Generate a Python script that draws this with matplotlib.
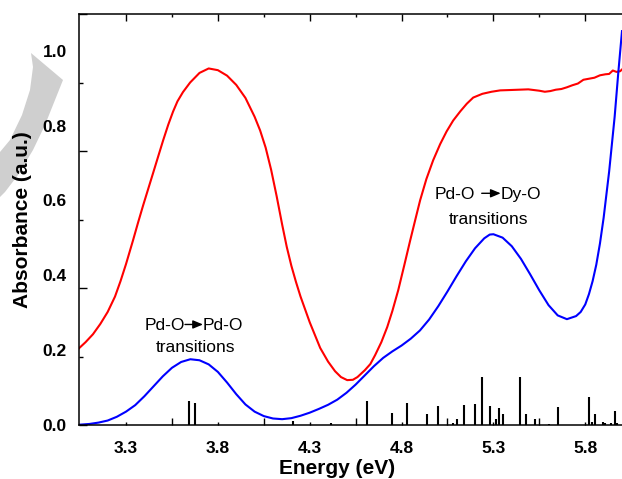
import numpy as np
import matplotlib
matplotlib.use("Agg")
import matplotlib.pyplot as plt
from matplotlib.patches import Polygon
from matplotlib.transforms import offset_copy
from matplotlib.ticker import FixedLocator

plt.rcParams["font.family"] = ["Liberation Sans", "DejaVu Sans"]

# --- data ---
# experimental absorbance (red)
exp_e = [3.044, 3.08, 3.12, 3.16, 3.20, 3.24, 3.27, 3.30, 3.338, 3.365,
         3.393, 3.42, 3.447, 3.475, 3.502, 3.53, 3.556, 3.58, 3.61, 3.649,
         3.70, 3.75, 3.80, 3.85, 3.90, 3.95, 4.00, 4.03, 4.06, 4.09,
         4.12, 4.15, 4.175, 4.20, 4.225, 4.25, 4.30, 4.357, 4.40, 4.438,
         4.47, 4.504, 4.535, 4.56, 4.60, 4.63, 4.656, 4.69, 4.722, 4.75,
         4.782, 4.815, 4.847, 4.875, 4.901, 4.935, 4.972, 5.01, 5.045, 5.081,
         5.12, 5.155, 5.19, 5.24, 5.29, 5.337, 5.39, 5.44, 5.49, 5.52,
         5.55, 5.58, 5.61, 5.64, 5.67, 5.70, 5.73, 5.76, 5.79, 5.82,
         5.85, 5.88, 5.91, 5.93, 5.95, 5.97, 5.99, 6.00]
exp_a = [0.224, 0.242, 0.265, 0.295, 0.330, 0.375, 0.420, 0.470, 0.539, 0.590,
         0.641, 0.688, 0.735, 0.784, 0.831, 0.877, 0.915, 0.945, 0.972, 1.000,
         1.028, 1.041, 1.036, 1.020, 0.993, 0.955, 0.900, 0.860, 0.810, 0.745,
         0.668, 0.585, 0.520, 0.465, 0.418, 0.375, 0.300, 0.225, 0.185, 0.157,
         0.140, 0.131, 0.132, 0.140, 0.160, 0.178, 0.204, 0.242, 0.286, 0.333,
         0.394, 0.467, 0.539, 0.600, 0.656, 0.718, 0.773, 0.820, 0.857, 0.889,
         0.916, 0.938, 0.956, 0.967, 0.973, 0.977, 0.978, 0.979, 0.980, 0.978,
         0.976, 0.973, 0.975, 0.979, 0.981, 0.986, 0.992, 0.997, 1.008, 1.011,
         1.014, 1.021, 1.024, 1.025, 1.035, 1.031, 1.033, 1.038]

# calculated spectrum (blue)
calc_e = [3.049, 3.10, 3.15, 3.20, 3.25, 3.30, 3.35, 3.40, 3.45, 3.50,
          3.55, 3.60, 3.65, 3.70, 3.75, 3.80, 3.85, 3.90, 3.95, 4.00,
          4.05, 4.10, 4.15, 4.20, 4.25, 4.30, 4.35, 4.40, 4.45, 4.50,
          4.55, 4.60, 4.65, 4.70, 4.75, 4.80, 4.85, 4.90, 4.95, 5.00,
          5.05, 5.10, 5.15, 5.20, 5.25, 5.28, 5.30, 5.35, 5.40, 5.45,
          5.50, 5.55, 5.60, 5.65, 5.70, 5.75, 5.775, 5.80, 5.82, 5.84,
          5.86, 5.88, 5.90, 5.93, 5.96, 5.98, 6.00]
calc_a = [0.001, 0.003, 0.007, 0.013, 0.024, 0.039, 0.058, 0.084, 0.113, 0.142,
          0.167, 0.184, 0.192, 0.189, 0.177, 0.155, 0.124, 0.090, 0.060, 0.039,
          0.026, 0.019, 0.017, 0.020, 0.027, 0.036, 0.047, 0.059, 0.074, 0.094,
          0.118, 0.145, 0.172, 0.196, 0.215, 0.232, 0.252, 0.276, 0.308, 0.347,
          0.390, 0.435, 0.478, 0.516, 0.545, 0.556, 0.557, 0.547, 0.522, 0.485,
          0.440, 0.393, 0.350, 0.320, 0.309, 0.318, 0.330, 0.352, 0.382, 0.420,
          0.468, 0.530, 0.605, 0.740, 0.900, 1.030, 1.150]

# transition sticks
stick_e = [3.643, 3.676, 4.211, 4.415, 4.610, 4.750, 4.829, 4.939, 4.997, 5.078,
           5.101, 5.141, 5.201, 5.238, 5.279, 5.315, 5.333, 5.350, 5.446, 5.479,
           5.529, 5.603, 5.651, 5.823, 5.835, 5.855, 5.898, 5.905, 5.942, 5.961,
           5.973]
stick_h = [0.071, 0.065, 0.012, 0.005, 0.071, 0.034, 0.063, 0.033, 0.055, 0.007,
           0.017, 0.058, 0.061, 0.139, 0.056, 0.018, 0.049, 0.032, 0.140, 0.032,
           0.017, 0.004, 0.052, 0.081, 0.010, 0.032, 0.010, 0.007, 0.005, 0.040,
           0.007]

x_ticks = [3.3, 3.8, 4.3, 4.8, 5.3, 5.8]
x_minor = [3.55, 4.05, 4.55, 5.05, 5.55]
y_labels = [0.0, 0.2, 0.4, 0.6, 0.8, 1.0]

# --- figure ---
fig = plt.figure(figsize=(6.22, 4.79), dpi=100)
ax = fig.add_axes([79 / 622, 54 / 479, 543 / 622, 411 / 479])

ax.plot(exp_e, exp_a, color="red", linewidth=1.5)
ax.plot(calc_e, calc_a, color="blue", linewidth=1.5)
ax.vlines(stick_e, 0, stick_h, color="black", linewidth=1.5)

ax.set_xlim(3.044, 6.0)
ax.set_ylim(0, 1.2)

for s in ["left", "bottom", "top"]:
    ax.spines[s].set_linewidth(1.1)
ax.spines["right"].set_visible(False)

# bottom ticks
ax.xaxis.set_major_locator(FixedLocator(x_ticks))
ax.xaxis.set_minor_locator(FixedLocator(x_minor))
ax.tick_params(axis="x", which="major", direction="in", length=2.4, width=1,
               pad=11.5, labelsize=12.5, top=False)
ax.tick_params(axis="x", which="minor", direction="in", length=5.3, width=1, top=False)
for lab in ax.get_xticklabels():
    lab.set_fontweight("bold")

# top ticks
top = ax.secondary_xaxis("top")
top.xaxis.set_major_locator(FixedLocator(x_ticks))
top.xaxis.set_minor_locator(FixedLocator(x_minor))
top.tick_params(which="major", direction="in", length=5.0, width=1, labeltop=False)
top.tick_params(which="minor", direction="in", length=2.2, width=1)
top.spines["top"].set_visible(False)

# left ticks (marks)
ax.yaxis.set_major_locator(FixedLocator([0.0, 0.4, 0.8, 1.2]))
ax.yaxis.set_minor_locator(FixedLocator([0.2, 0.6, 1.0]))
ax.tick_params(axis="y", which="major", direction="in", length=5.5, width=1,
               labelleft=False)
ax.tick_params(axis="y", which="minor", direction="in", length=2.9, width=1)

# left tick labels
lab_ax = ax.secondary_yaxis("left", functions=(lambda y: y / 1.093, lambda y: y * 1.093))
lab_ax.yaxis.set_major_locator(FixedLocator(y_labels))
lab_ax.yaxis.set_minor_locator(FixedLocator([]))
lab_ax.set_yticklabels([f"{v:.1f}" for v in y_labels], fontweight="bold")
lab_ax.tick_params(length=0, pad=8.9, labelsize=12.5)
lab_ax.spines["left"].set_visible(False)

# axis titles
fig.text(337.5 / 622, 1 - 468 / 479, "Energy (eV)", ha="center", va="center",
         fontsize=15, fontweight="bold")
fig.text(23 / 622, 1 - 220 / 479, "Absorbance (a.u.)", ha="center", va="center",
         rotation=90, fontsize=15, fontweight="bold")


# transition labels
def transition_label(xc, yb, left, right, a0, a1, gap, y2, xc2):
    t_left = offset_copy(ax.transData, fig=fig, x=a0 - gap, y=0, units="dots")
    t_right = offset_copy(ax.transData, fig=fig, x=a1, y=0, units="dots")
    ax.text(xc, yb, left, transform=t_left, ha="right", va="baseline", fontsize=12.5)
    ax.text(xc, yb, right, transform=t_right, ha="left", va="baseline", fontsize=12.5)
    ta = offset_copy(ax.transData, fig=fig, x=a0, y=6, units="dots")
    tb = offset_copy(ax.transData, fig=fig, x=a1, y=6, units="dots")
    ax.annotate("", xy=(xc, yb), xycoords=tb, xytext=(xc, yb), textcoords=ta,
                arrowprops=dict(arrowstyle="-|>,head_length=0.6,head_width=0.25",
                                mutation_scale=10, color="black", lw=1,
                                shrinkA=0, shrinkB=0))
    ax.text(xc2, y2, "transitions", ha="center", va="baseline", fontsize=12.5)


transition_label(3.670, 0.276, "Pd-O", "Pd-O", -9, 9, 0, 0.214, 3.676)
transition_label(5.288, 0.659, "Pd-O", "Dy-O", -9.5, 9.5, 6.5, 0.586, 5.272)

# grey curved arrow fragment at top-left
shape_px = [(31, 53), (63, 80), (55, 100), (45, 125), (33, 150), (18, 175),
            (5, 192), (0, 197), (0, 152), (10, 140), (22, 115), (30, 90), (33, 67)]
shape = Polygon([(x / 622, 1 - y / 479) for x, y in shape_px], closed=True,
                transform=fig.transFigure, facecolor="#cfcfcf", edgecolor="none",
                zorder=-1)
fig.patches.append(shape)

fig.savefig("out.png", dpi=100)
